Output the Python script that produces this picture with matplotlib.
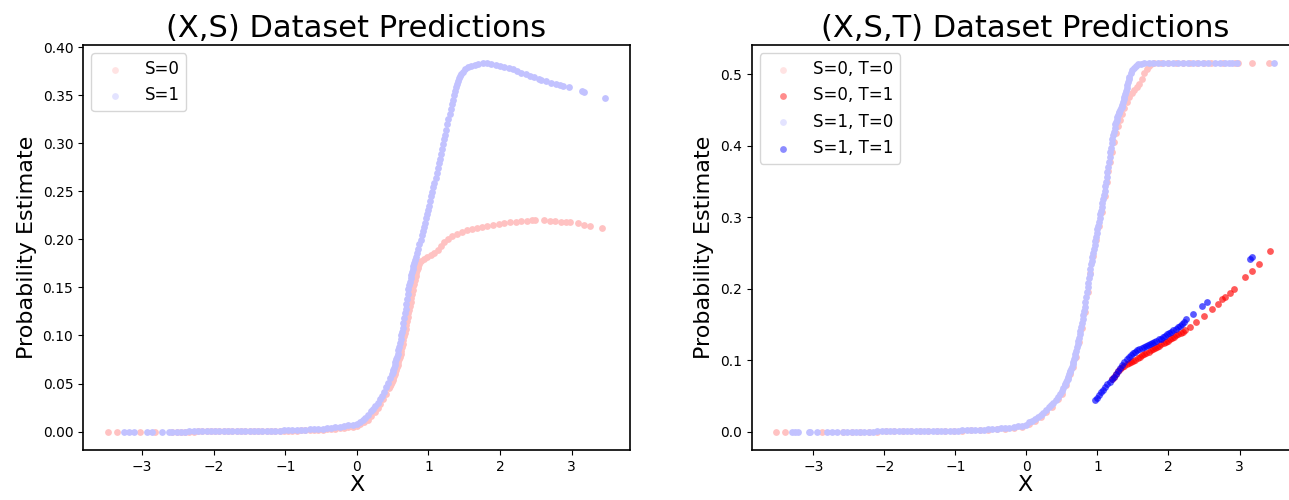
import matplotlib
matplotlib.use("Agg")
import matplotlib.pyplot as plt

# ---- (X,S) panel ----
left_s1_x = [-3.26, -3.19, -3.12, -2.94, -2.87, -2.73, -2.63,
             -2.58, -2.52, -2.46, -2.40, -2.34, -2.28, -2.22, -2.16, -2.10, -2.04, -1.98,
             -1.92, -1.86, -1.80, -1.74, -1.68, -1.62, -1.56, -1.50, -1.44, -1.38, -1.32,
             -1.26, -1.20, -1.14, -1.08, -1.02, -0.96, -0.90, -0.84, -0.78, -0.72, -0.66,
             -0.60, -0.54, -0.48, -0.42, -0.36, -0.30, -0.24, -0.18, -0.12, -0.06, 0.00,
             0.04, 0.08, 0.12, 0.16, 0.20, 0.23, 0.26, 0.29, 0.32, 0.35, 0.38, 0.41, 0.44,
             0.47, 0.49,
             0.50, 0.51, 0.52, 0.53, 0.54, 0.55, 0.56, 0.57, 0.58, 0.59, 0.60, 0.61, 0.62,
             0.63, 0.64, 0.65, 0.66, 0.67, 0.68, 0.69, 0.70, 0.71, 0.72, 0.73, 0.74, 0.75,
             0.76, 0.77, 0.78, 0.79, 0.80,
             0.815, 0.830, 0.845, 0.860, 0.875, 0.890, 0.905, 0.920, 0.935, 0.950, 0.965,
             0.980, 0.995, 1.010, 1.025, 1.040, 1.055, 1.070, 1.085, 1.100, 1.115, 1.130,
             1.145, 1.160, 1.175, 1.190, 1.205, 1.220, 1.235, 1.250, 1.265, 1.280, 1.295,
             1.310, 1.325, 1.340, 1.355, 1.370, 1.385, 1.400, 1.415, 1.430, 1.445,
             1.46, 1.48, 1.51, 1.55, 1.60, 1.65, 1.70, 1.76, 1.82, 1.88, 1.94, 2.00, 2.06,
             2.12, 2.18, 2.24, 2.30, 2.36, 2.42, 2.48, 2.54,
             2.58, 2.64, 2.72, 2.78, 2.84, 2.88, 2.96, 3.14, 3.18, 3.47]
left_s1_y = [0, 0, 0, 0, 0, 0, 0,
             .0000, .0000, .0000, .0000, .0001, .0001, .0001, .0001, .0002, .0002, .0002,
             .0003, .0003, .0003, .0004, .0004, .0005, .0005, .0006, .0006, .0007, .0008,
             .0009, .0009, .0010, .0011, .0012, .0013, .0015, .0016, .0018, .0020, .0022,
             .0024, .0027, .0030, .0034, .0038, .0043, .0049, .0056, .0064, .0073, .0083,
             .0095, .012, .014, .017, .021, .024, .027, .030, .034, .037, .041, .046, .051,
             .056, .060,
             .062, .064, .066, .069, .072, .075, .078, .081, .085, .088, .092, .096, .100,
             .104, .108, .113, .118, .123, .128, .133, .138, .143, .148, .152, .156, .160,
             .163, .166, .169, .172, .175,
             .179, .182, .186, .190, .195, .199, .204, .209, .213, .217, .222,
             .226, .230, .235, .240, .245, .249, .254, .259, .264, .269, .274,
             .279, .284, .289, .294, .299, .304, .309, .314, .320, .325, .330,
             .336, .341, .345, .350, .354, .358, .362, .365, .368, .370,
             .372, .374, .377, .379, .380, .381, .382, .383, .383, .382, .381, .380, .379,
             .378, .377, .375, .373, .372, .370, .369, .367,
             .366, .365, .363, .362, .361, .360, .358, .354, .353, .3465]

left_s0_x = [-3.48, -3.35, -3.03, -2.82,
             -2.58, -2.52, -2.46, -2.40, -2.34, -2.28, -2.22, -2.16, -2.10, -2.04, -1.98,
             -1.92, -1.86, -1.80, -1.74, -1.68, -1.62, -1.56, -1.50, -1.44, -1.38, -1.32,
             -1.26, -1.20, -1.14, -1.08, -1.02, -0.96, -0.90, -0.84, -0.78, -0.72, -0.66,
             -0.60, -0.54, -0.48, -0.42, -0.36, -0.30, -0.24, -0.18, -0.12, -0.06, 0.00,
             0.05, 0.10, 0.15, 0.20, 0.25, 0.29, 0.33, 0.37, 0.41,
             0.45, 0.46, 0.47, 0.48, 0.49, 0.50, 0.51, 0.52, 0.53, 0.54, 0.55, 0.56, 0.57,
             0.58, 0.59, 0.60, 0.61, 0.62, 0.63, 0.64, 0.65, 0.66, 0.67, 0.68, 0.69, 0.70,
             0.71, 0.72, 0.73, 0.74, 0.75, 0.76, 0.77, 0.78, 0.79, 0.80, 0.81, 0.82, 0.83,
             0.84, 0.85, 0.86, 0.87,
             0.90, 0.94, 0.98, 1.03, 1.08, 1.13, 1.18, 1.22, 1.27, 1.33, 1.40, 1.47, 1.54,
             1.61, 1.68, 1.75, 1.82, 1.90, 1.98, 2.06, 2.14, 2.22, 2.30, 2.38, 2.45,
             2.49, 2.62, 2.70, 2.77, 2.85, 2.93, 2.98, 3.09, 3.18, 3.26, 3.42]
left_s0_y = [0, 0, 0, 0,
             .0000, .0000, .0000, .0000, .0000, .0000, .0001, .0001, .0001, .0001, .0001,
             .0002, .0002, .0002, .0002, .0003, .0003, .0003, .0004, .0004, .0005, .0005,
             .0006, .0006, .0007, .0008, .0008, .0009, .0010, .0011, .0012, .0014, .0015,
             .0017, .0019, .0021, .0024, .0027, .0030, .0034, .0039, .0045, .0052, .0060,
             .0075, .0095, .012, .016, .020, .025, .029, .034, .039,
             .045, .047, .048, .050, .052, .054, .056, .058, .060, .062, .064, .067, .069,
             .072, .075, .078, .081, .084, .088, .091, .095, .099, .103, .107, .111, .115,
             .119, .123, .127, .131, .135, .139, .143, .147, .151, .154, .158, .162, .165,
             .168, .170, .172, .174,
             .177, .180, .182, .184, .186, .189, .193, .197, .200, .203, .206, .208, .210,
             .211, .212, .213, .214, .215, .216, .217, .218, .218, .219, .219, .220,
             .2198, .2198, .2195, .219, .2184, .218, .2177, .2167, .2153, .214, .212]

# ---- (X,S,T) panel ----
right_s1t0_x = [-3.30, -3.26, -3.21, -3.06, -3.04, -2.95, -2.81, -2.74, -2.67,
                -2.58, -2.52, -2.46, -2.40, -2.34, -2.28, -2.22, -2.16, -2.10, -2.04, -1.98,
                -1.92, -1.86, -1.80, -1.74, -1.68, -1.62, -1.56, -1.50, -1.44, -1.38, -1.32,
                -1.26, -1.20, -1.14, -1.08, -1.02, -0.96, -0.90, -0.84, -0.78, -0.72, -0.66,
                -0.60, -0.54, -0.48, -0.42, -0.36, -0.30, -0.24, -0.18, -0.12, -0.06, 0.00,
                0.04, 0.08, 0.12, 0.16, 0.20, 0.24, 0.28, 0.32, 0.35, 0.38, 0.41, 0.44, 0.47,
                0.50, 0.52, 0.54,
                0.55, 0.56, 0.57, 0.58, 0.59, 0.60, 0.61, 0.62, 0.63, 0.64, 0.65, 0.66, 0.67,
                0.68, 0.69, 0.70, 0.71, 0.72, 0.73, 0.74, 0.75, 0.76, 0.77, 0.78, 0.79, 0.80,
                0.81, 0.82, 0.83, 0.84, 0.85, 0.86, 0.87, 0.88, 0.89, 0.90, 0.91, 0.92, 0.93,
                0.94, 0.95, 0.96, 0.97, 0.98, 0.99, 1.00, 1.01, 1.02, 1.03, 1.04, 1.05, 1.06,
                1.07, 1.08, 1.09, 1.10, 1.11, 1.12, 1.13, 1.14, 1.15, 1.16, 1.17, 1.18, 1.19,
                1.20, 1.21, 1.22, 1.23, 1.24, 1.25, 1.26, 1.27, 1.28, 1.29, 1.30, 1.31, 1.32,
                1.33, 1.34, 1.35, 1.36, 1.37, 1.38, 1.39, 1.40, 1.41, 1.42, 1.43, 1.44, 1.45,
                1.47, 1.49, 1.51, 1.54, 1.57, 1.61, 1.66, 1.72, 1.78, 1.85, 1.92, 1.99, 2.06,
                2.13, 2.20, 2.27, 2.34, 2.41, 2.48, 2.55,
                2.65, 2.72, 2.79, 2.85, 2.89, 2.96, 3.48]
right_s1t0_y = [0, 0, 0, 0, 0, 0, 0, 0, 0,
                .0000, .0000, .0000, .0000, .0001, .0001, .0001, .0001, .0002, .0002, .0002,
                .0003, .0003, .0003, .0004, .0004, .0005, .0005, .0006, .0007, .0007, .0008,
                .0009, .0010, .0011, .0012, .0013, .0015, .0016, .0018, .0020, .0022, .0025,
                .0028, .0031, .0035, .0039, .0044, .0050, .0057, .0065, .0074, .0084, .0095,
                .013, .015, .018, .020, .023, .026, .030, .034, .037, .040, .044, .048, .052,
                .057, .061, .065,
                .067, .069, .072, .074, .077, .080, .083, .085, .088, .091, .094, .098, .102,
                .105, .109, .113, .118, .122, .127, .131, .136, .141, .147, .152, .158, .163,
                .169, .175, .181, .188, .195, .202, .208, .215, .221, .228, .234, .239, .245,
                .250, .256, .261, .267, .272, .278, .283, .288, .293, .299, .304, .309, .315,
                .320, .326, .331, .337, .344, .350, .357, .364, .371, .378, .384, .391, .397,
                .404, .409, .415, .420, .425, .430, .433, .436, .440, .443, .446, .448, .450,
                .453, .455, .457, .461, .465, .469, .473, .477, .481, .485, .489, .493, .497,
                .502, .506, .509, .512, .514, .515, .5155, .5155, .5155, .5155, .5155, .5155,
                .5155, .5155, .5155, .5155, .5155, .5155, .5155, .5155,
                .5155, .5155, .5155, .5155, .5155, .5155, .5155]

right_s0t0_x = [-3.52, -3.40, -2.88,
                -2.58, -2.46, -2.34, -2.22, -2.10, -1.98, -1.86, -1.74, -1.62, -1.50, -1.38,
                -1.26, -1.14, -1.02, -0.90, -0.78, -0.66, -0.54, -0.42, -0.30, -0.18, -0.06,
                0.04, 0.12, 0.20, 0.28, 0.36, 0.44, 0.50, 0.56, 0.62, 0.66, 0.70, 0.74, 0.78,
                0.82, 0.86, 0.90, 0.94, 0.98, 1.02, 1.06, 1.10, 1.13, 1.15, 1.17, 1.20, 1.23,
                1.26, 1.29, 1.32, 1.35, 1.38, 1.41, 1.45, 1.49, 1.52, 1.55, 1.58, 1.62, 1.66,
                1.70, 1.73, 1.76, 1.80, 1.90, 2.00, 2.10, 2.20, 2.30, 2.40, 2.50,
                2.60, 2.77, 2.94, 2.98, 3.17, 3.41]
right_s0t0_y = [0, 0, 0,
                .0000, .0000, .0000, .0001, .0001, .0002, .0002, .0003, .0004, .0005, .0006,
                .0007, .0009, .0011, .0014, .0017, .0021, .0026, .0033, .0042, .0053, .0068,
                .011, .015, .020, .027, .035, .045, .053, .065, .080, .091, .105, .125, .145,
                .168, .195, .222, .246, .268, .288, .308, .330, .350, .365, .377, .392, .405,
                .418, .428, .436, .445, .453, .461, .468, .474, .478, .483, .487, .493, .502,
                .508, .512, .514, .5155, .5155, .5155, .5155, .5155, .5155, .5155, .5155,
                .5155, .5155, .5155, .5155, .5155, .5155]

right_s0t1_x = [1.20, 1.23, 1.26, 1.29, 1.32, 1.35,
                1.38, 1.41, 1.44, 1.47, 1.50, 1.53, 1.57, 1.60, 1.63, 1.66, 1.69, 1.72,
                1.75, 1.78, 1.81, 1.84, 1.87, 1.90, 1.93, 1.96, 1.99, 2.02, 2.05, 2.08,
                2.11, 2.14, 2.17, 2.20, 2.23,
                2.30, 2.39, 2.50, 2.61, 2.70, 2.76, 2.80, 2.87, 2.92, 3.08, 3.17, 3.27, 3.43]
right_s0t1_y = [.073, .077, .081, .085, .087, .090,
                .092, .094, .096, .097, .099, .100, .103, .105, .107, .108, .110, .112,
                .114, .116, .117, .119, .120, .122, .124, .126, .127, .129, .131, .133,
                .135, .137, .138, .140, .142,
                .147, .154, .162, .172, .179, .185, .189, .194, .200, .216, .225, .235, .253]

right_s1t1_x = [0.96, 0.99, 1.02, 1.05, 1.08, 1.11, 1.14, 1.17, 1.20, 1.23, 1.26, 1.29,
                1.32, 1.35, 1.38, 1.41, 1.44, 1.47, 1.50, 1.53, 1.56, 1.59, 1.62, 1.65,
                1.68, 1.71, 1.74, 1.77, 1.80, 1.83, 1.86, 1.89, 1.92, 1.95, 1.98, 2.01,
                2.04, 2.07, 2.10, 2.13, 2.16, 2.19, 2.22,
                2.25, 2.35, 2.47, 2.54, 3.15, 3.17]
right_s1t1_y = [.044, .047, .051, .055, .058, .062, .066, .069, .073, .077, .081, .085,
                .089, .093, .097, .101, .104, .107, .110, .112, .114, .115, .117, .118,
                .120, .121, .123, .124, .126, .127, .129, .130, .132, .134, .136, .138,
                .140, .142, .144, .146, .148, .150, .153,
                .158, .165, .176, .182, .2415, .245]

MS = 24
PINK = "#ffc2c2"
LILAC = "#c2c2ff"

fig = plt.figure(figsize=(12.89, 5), dpi=100)
ax1 = fig.add_axes([83 / 1289, 0.10, 547 / 1289, 0.81])
ax2 = fig.add_axes([751.5 / 1289, 0.10, 547 / 1289, 0.81])

ax1.scatter(left_s0_x, left_s0_y, s=MS, c=PINK, linewidths=0, label="S=0")
ax1.scatter(left_s1_x, left_s1_y, s=MS, c=LILAC, linewidths=0, label="S=1")
ax1.set_title("(X,S) Dataset Predictions", fontsize=22)

ax2.scatter(right_s0t0_x, right_s0t0_y, s=MS, c=PINK, linewidths=0, label="S=0, T=0")
ax2.scatter(right_s0t1_x, right_s0t1_y, s=MS, c="red", alpha=0.65, linewidths=0, label="S=0, T=1")
ax2.scatter(right_s1t0_x, right_s1t0_y, s=MS, c=LILAC, linewidths=0, label="S=1, T=0")
ax2.scatter(right_s1t1_x, right_s1t1_y, s=MS, c="blue", alpha=0.65, linewidths=0, label="S=1, T=1")
ax2.set_title("(X,S,T) Dataset Predictions", fontsize=22)

for ax in (ax1, ax2):
    ax.set_xlabel("X", fontsize=16, labelpad=1)
    ax.set_ylabel("Probability Estimate", fontsize=16)
    ax.tick_params(labelsize=10)
    leg = ax.legend(loc="upper left", fontsize=12)
    # legend markers look paler than the dense bands
    for h in leg.legend_handles:
        h.set_alpha(0.45)
    for sp in ax.spines.values():
        sp.set_linewidth(1.2)

plt.savefig("out.png", dpi=100, facecolor="white")
